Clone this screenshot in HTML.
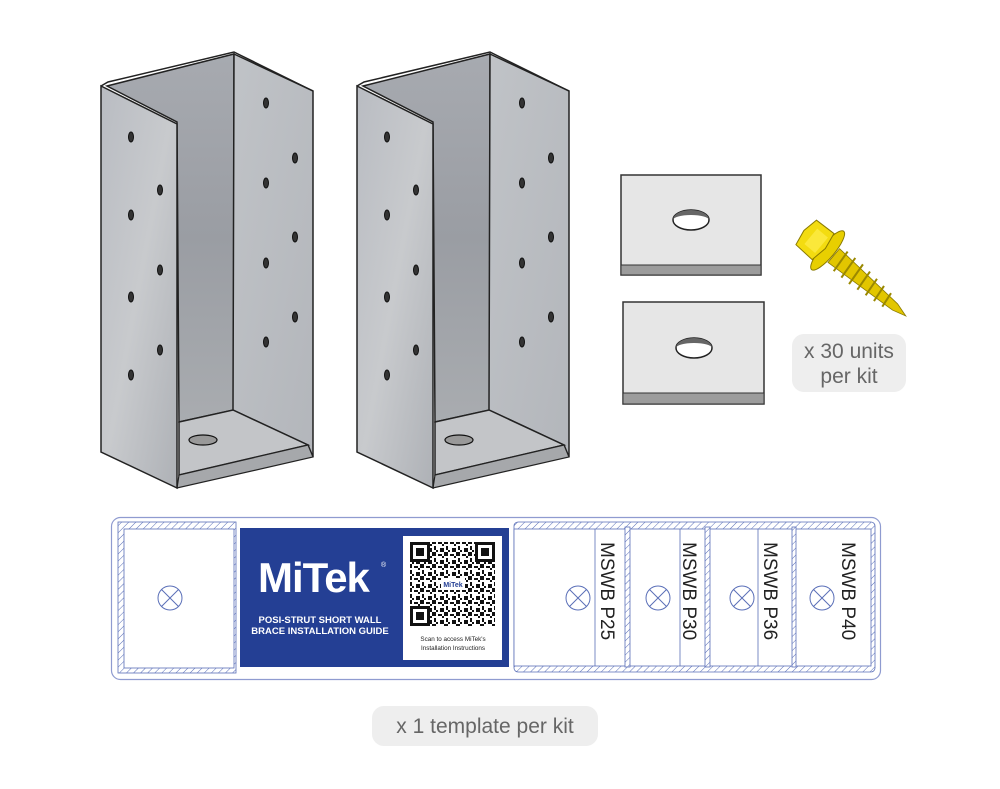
<!DOCTYPE html>
<html><head><meta charset="utf-8">
<style>
html,body{margin:0;padding:0;background:#fff;}
body{width:1000px;height:789px;overflow:hidden;position:relative;font-family:"Liberation Sans",sans-serif;}
svg{position:absolute;left:0;top:0;}
</style></head>
<body>
<svg width="1000" height="789" viewBox="0 0 1000 789" xmlns="http://www.w3.org/2000/svg">
<defs>
  <linearGradient id="gl" x1="0" y1="0" x2="1" y2="1">
    <stop offset="0" stop-color="#b9bcc2"/><stop offset="0.5" stop-color="#c8cacd"/><stop offset="1" stop-color="#aeb1b6"/>
  </linearGradient>
  <linearGradient id="gb" x1="0" y1="0" x2="0" y2="1">
    <stop offset="0" stop-color="#a7aab0"/><stop offset="0.5" stop-color="#9a9da3"/><stop offset="1" stop-color="#a9acb0"/>
  </linearGradient>
  <linearGradient id="gr" x1="0" y1="0" x2="1" y2="1">
    <stop offset="0" stop-color="#c0c3c7"/><stop offset="1" stop-color="#b3b6bb"/>
  </linearGradient>
  <pattern id="hatch" width="5" height="5" patternUnits="userSpaceOnUse" patternTransform="rotate(45)">
    <rect width="5" height="5" fill="#fff"/><line x1="0" y1="0" x2="0" y2="5" stroke="#5a6fb8" stroke-width="1"/>
  </pattern>
  <pattern id="qr" width="12" height="12" patternUnits="userSpaceOnUse">
    <rect width="12" height="12" fill="#fff"/>
    <rect x="0" y="0" width="4" height="4" fill="#111"/><rect x="6" y="2" width="4" height="2" fill="#111"/>
    <rect x="2" y="6" width="2" height="4" fill="#111"/><rect x="8" y="8" width="4" height="4" fill="#111"/>
    <rect x="4" y="10" width="2" height="2" fill="#111"/><rect x="10" y="4" width="2" height="2" fill="#111"/>
  </pattern>
  <g id="br">
    <polygon points="107,86 234,54 234,410 179,422 177,122" fill="url(#gb)" stroke="#222" stroke-width="1.5"/>
    <polygon points="234,54 313,91 313,457 308,445 233,410" fill="url(#gr)" stroke="#222" stroke-width="1.5"/>
    <polygon points="179,422 233,410 308,445 179,475" fill="#c3c5c8" stroke="#222" stroke-width="1.5"/>
    <polygon points="179,475 308,445 313,457 177,488" fill="#a6a8ab" stroke="#222" stroke-width="1.2"/>
    <ellipse cx="203" cy="440" rx="14" ry="5" fill="#999" stroke="#111" stroke-width="1.2"/>
    <polygon points="101,86 177,124 177,488 101,452" fill="url(#gl)" stroke="#222" stroke-width="1.5"/>
    <polyline points="101,86 108,82 234,52 240,55 313,91" fill="none" stroke="#222" stroke-width="1.5"/>
    <g fill="#333" stroke="#111">
      <ellipse cx="131" cy="137" rx="2.5" ry="5"/><ellipse cx="160" cy="190" rx="2.5" ry="5"/>
      <ellipse cx="131" cy="215" rx="2.5" ry="5"/><ellipse cx="160" cy="270" rx="2.5" ry="5"/>
      <ellipse cx="131" cy="297" rx="2.5" ry="5"/><ellipse cx="160" cy="350" rx="2.5" ry="5"/>
      <ellipse cx="131" cy="375" rx="2.5" ry="5"/>
      <ellipse cx="266" cy="103" rx="2.5" ry="5"/><ellipse cx="295" cy="158" rx="2.5" ry="5"/>
      <ellipse cx="266" cy="183" rx="2.5" ry="5"/><ellipse cx="295" cy="237" rx="2.5" ry="5"/>
      <ellipse cx="266" cy="263" rx="2.5" ry="5"/><ellipse cx="295" cy="317" rx="2.5" ry="5"/>
      <ellipse cx="266" cy="342" rx="2.5" ry="5"/>
    </g>
  </g>
</defs>

<use href="#br"/>
<use href="#br" transform="translate(256,0)"/>

<!-- plates -->
<rect x="621" y="175" width="140" height="100" fill="#e6e6e6" stroke="#333" stroke-width="1.5"/>
<rect x="621" y="265" width="140" height="10" fill="#9c9c9c" stroke="#333" stroke-width="1"/>
<ellipse cx="691" cy="220" rx="18" ry="10" fill="#fff" stroke="#222" stroke-width="1.5"/>
<path d="M673,220 A18,10 0 0 1 709,220 A18,5 0 0 0 673,220Z" fill="#666"/>
<rect x="623" y="302" width="141" height="102" fill="#e6e6e6" stroke="#333" stroke-width="1.5"/>
<rect x="623" y="393" width="141" height="11" fill="#9c9c9c" stroke="#333" stroke-width="1"/>
<ellipse cx="694" cy="348" rx="18" ry="10" fill="#fff" stroke="#222" stroke-width="1.5"/>
<path d="M676,348 A18,10 0 0 1 712,348 A18,5 0 0 0 676,348Z" fill="#666"/>

<!-- screw -->
<g transform="translate(820,244) rotate(40)">
  <polygon points="18,-9 98,-4 112,0 98,4 18,9" fill="#e2c600" stroke="#8a7a00" stroke-width="0.8"/>
  <g stroke="#9a8800" stroke-width="2">
    <line x1="26" y1="-12" x2="28" y2="12"/><line x1="36" y1="-12" x2="38" y2="12"/>
    <line x1="46" y1="-12" x2="48" y2="12"/><line x1="56" y1="-11" x2="58" y2="11"/>
    <line x1="66" y1="-10" x2="68" y2="10"/><line x1="76" y1="-9" x2="78" y2="9"/>
    <line x1="86" y1="-8" x2="88" y2="8"/>
  </g>
  <ellipse cx="10" cy="0" rx="7" ry="25" fill="#e8cf00" stroke="#8a7a00"/>
  <polygon points="-18,-16 4,-17 7,0 4,17 -18,16 -21,0" fill="#f3dc10" stroke="#8a7a00"/>
  <polygon points="-12,-10 2,-10 2,10 -12,10" fill="#fbe83a"/>
</g>

<rect x="792" y="334" width="114" height="58" rx="12" fill="#eeeeee"/>
<text x="849" y="358" text-anchor="middle" font-size="21" fill="#666">x 30 units</text>
<text x="849" y="383" text-anchor="middle" font-size="21" fill="#666">per kit</text>

<!-- template -->
<rect x="111.5" y="517.5" width="769" height="162" rx="9" fill="#fff" stroke="#8f9bd0" stroke-width="1.2"/>
<rect x="118" y="522" width="118" height="151" fill="url(#hatch)" stroke="#5a6fb8" stroke-width="0.8"/>
<rect x="124" y="529" width="110" height="139" fill="#fff" stroke="#5a6fb8" stroke-width="0.8"/>
<rect x="514" y="522" width="361" height="150" rx="4" fill="url(#hatch)" stroke="#5a6fb8" stroke-width="0.8"/>
<rect x="514" y="529" width="357" height="137" fill="#fff" stroke="#5a6fb8" stroke-width="0.8"/>
<g fill="url(#hatch)" stroke="#5a6fb8" stroke-width="0.8">
  <rect x="625" y="527" width="5" height="140"/><rect x="705" y="527" width="5" height="140"/>
  <rect x="792" y="527" width="4" height="140"/>
</g>
<g stroke="#5a6fb8" stroke-width="0.8">
  <line x1="595" y1="529" x2="595" y2="666"/><line x1="680" y1="529" x2="680" y2="666"/>
  <line x1="758" y1="529" x2="758" y2="666"/>
</g>
<g fill="none" stroke="#5a6fb8" stroke-width="1">
  <circle cx="170" cy="598" r="12"/><path d="M161.5,589.5 L178.5,606.5 M178.5,589.5 L161.5,606.5"/>
  <circle cx="578" cy="598" r="12"/><path d="M569.5,589.5 L586.5,606.5 M586.5,589.5 L569.5,606.5"/>
  <circle cx="658" cy="598" r="12"/><path d="M649.5,589.5 L666.5,606.5 M666.5,589.5 L649.5,606.5"/>
  <circle cx="742" cy="598" r="12"/><path d="M733.5,589.5 L750.5,606.5 M750.5,589.5 L733.5,606.5"/>
  <circle cx="822" cy="598" r="12"/><path d="M813.5,589.5 L830.5,606.5 M830.5,589.5 L813.5,606.5"/>
</g>
<g font-size="19" fill="#222">
  <text transform="translate(601,542) rotate(90)">MSWB P25</text>
  <text transform="translate(683,542) rotate(90)">MSWB P30</text>
  <text transform="translate(764,542) rotate(90)">MSWB P36</text>
  <text transform="translate(842,542) rotate(90)">MSWB P40</text>
</g>

<rect x="240" y="528" width="269" height="139" fill="#243f94"/>
<text x="258" y="592" font-size="42" font-weight="bold" fill="#fff" letter-spacing="-1">MiTek</text>
<text x="381" y="567" font-size="7" fill="#fff">®</text>
<text x="320" y="623" text-anchor="middle" font-size="9.5" font-weight="bold" fill="#fff">POSI-STRUT SHORT WALL</text>
<text x="320" y="634" text-anchor="middle" font-size="9.5" font-weight="bold" fill="#fff">BRACE INSTALLATION GUIDE</text>
<rect x="403" y="536" width="99" height="124" fill="#fff"/>
<rect x="410" y="542" width="85" height="84" fill="url(#qr)"/>
<g fill="#111">
  <rect x="410" y="542" width="20" height="20"/><rect x="475" y="542" width="20" height="20"/><rect x="410" y="606" width="20" height="20"/>
</g>
<g fill="#fff"><rect x="413" y="545" width="14" height="14"/><rect x="478" y="545" width="14" height="14"/><rect x="413" y="609" width="14" height="14"/></g>
<g fill="#111"><rect x="416" y="548" width="8" height="8"/><rect x="481" y="548" width="8" height="8"/><rect x="416" y="612" width="8" height="8"/></g>
<rect x="441" y="578" width="24" height="12" fill="#fff"/>
<text x="453" y="587" text-anchor="middle" font-size="7" font-weight="bold" fill="#243f94">MiTek</text>
<text x="453" y="641" text-anchor="middle" font-size="6.3" fill="#222">Scan to access MiTek's</text>
<text x="453" y="650" text-anchor="middle" font-size="6.3" fill="#222">Installation Instructions</text>

<rect x="372" y="706" width="226" height="40" rx="12" fill="#eeeeee"/>
<text x="485" y="733" text-anchor="middle" font-size="21" fill="#666">x 1 template per kit</text>
</svg>
</body></html>
